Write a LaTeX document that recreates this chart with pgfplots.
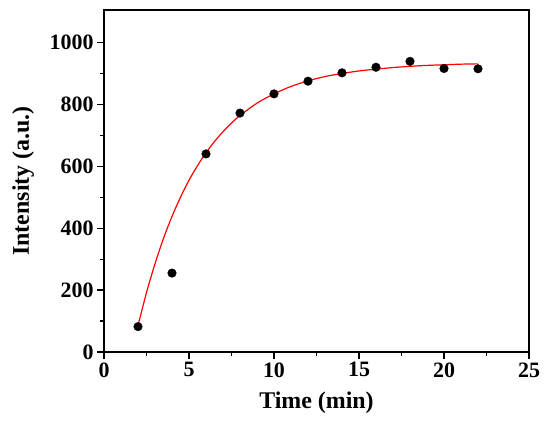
\documentclass[border=0pt]{standalone}
\usepackage{fontspec}
\setmainfont{Liberation Serif}
\usepackage{pgfplots}
\pgfplotsset{compat=1.18}
\begin{document}
\begin{tikzpicture}[x=1bp,y=1bp]
\path[use as bounding box] (-104bp,-70bp) rectangle (446bp,352bp);
\begin{axis}[
  at={(0,0)}, anchor=south west,
  scale only axis,
  width=425bp, height=342bp,
  xmin=0, xmax=25, ymin=0, ymax=1105,
  xtick={0,5,10,15,20,25},
  ytick={0,200,400,600,800,1000},
  minor x tick num=1,
  minor y tick num=1,
  tick pos=left,
  tick align=outside,
  major tick length=7bp,
  minor tick length=4bp,
  every tick/.style={black, line width=1.2bp},
  axis line style={line width=1.5bp},
  /pgf/number format/assume math mode=true,
  ticklabel style={font=\fontsize{22}{22}\selectfont\bfseries},
  scaled ticks=false,
  /pgf/number format/1000 sep={},
  xlabel={Time (min)},
  ylabel={Intensity (a.u.)},
  every axis x label/.style={at={(axis description cs:0.5,-0.164)}, anchor=base, font=\fontsize{24}{24}\selectfont\bfseries},
  every axis y label/.style={at={(axis description cs:-0.1765,0.5)}, anchor=base, rotate=90, font=\fontsize{24}{24}\selectfont\bfseries},
  clip=false,
]
\addplot[red, line width=1.2bp, smooth, tension=0.5] coordinates {
(2,85) (2.5,192) (3,285) (3.5,367) (4,438) (4.5,500) (5,555) (5.5,602)
(6,644) (6.5,680) (7,712) (7.5,740) (8,764) (9,804) (10,834) (11,858)
(12,876) (13,890) (14,900) (15,908) (16,914) (17,919) (18,923) (19,926)
(20,928) (21,930) (22,931)
};
\addplot[only marks, mark=*, mark size=4.3bp, black] coordinates {
(2,82) (4,255) (6,640) (8,772) (10,834) (12,875) (14,902) (16,920) (18,939) (20,916) (22,915)
};
\end{axis}
\end{tikzpicture}
\end{document}
